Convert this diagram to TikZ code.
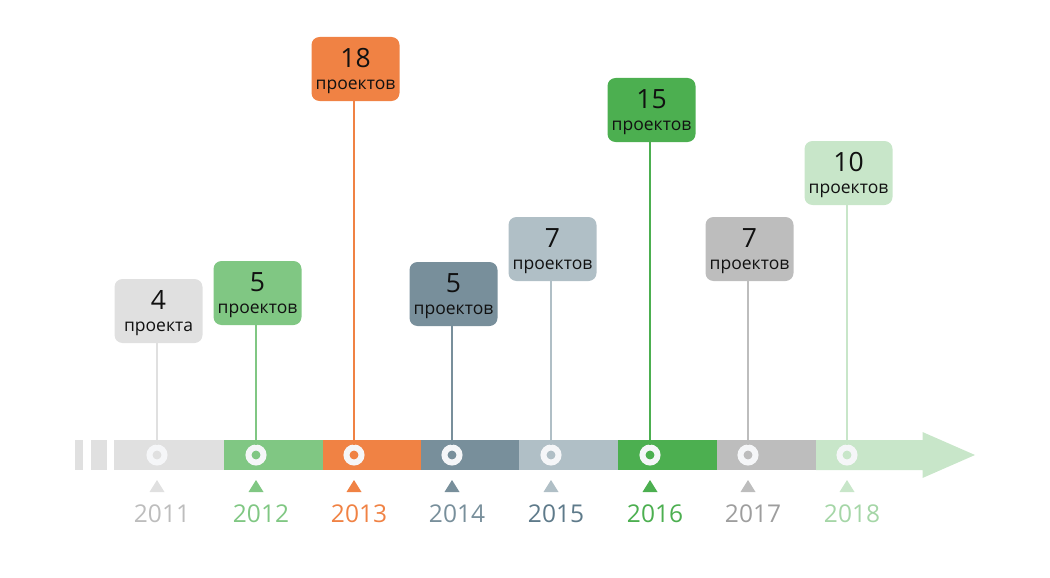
\documentclass[tikz,border=0pt]{standalone}
\usepackage{fontspec}
\setmainfont{Open Sans}
\definecolor{c2011}{HTML}{E0E0E0}
\definecolor{c2012}{HTML}{80C783}
\definecolor{c2013}{HTML}{F08244}
\definecolor{c2014}{HTML}{788F9B}
\definecolor{c2015}{HTML}{B0BFC6}
\definecolor{c2016}{HTML}{4CAF50}
\definecolor{c2017}{HTML}{BDBDBD}
\definecolor{c2018}{HTML}{C8E6C9}
\definecolor{t2011}{HTML}{BDBDBD}
\definecolor{t2012}{HTML}{80C783}
\definecolor{t2013}{HTML}{F08244}
\definecolor{t2014}{HTML}{788F9B}
\definecolor{t2015}{HTML}{5E7A8A}
\definecolor{t2016}{HTML}{4CAF50}
\definecolor{t2017}{HTML}{9E9E9E}
\definecolor{t2018}{HTML}{A5D6A7}
\definecolor{ring}{HTML}{F5F6F8}
\definecolor{ink}{HTML}{111111}
\tikzset{
  databox/.style={rounded corners=8pt, minimum width=88pt, minimum height=64pt, inner sep=0pt, draw=none},
  numtext/.style={font=\fontsize{26.5}{28}\selectfont, text=ink, inner sep=0pt, anchor=base},
  wordtext/.style={font=\fontsize{17.5}{19}\selectfont, text=ink, inner sep=0pt, anchor=base},
  marker/.style={circle, minimum size=15pt, inner sep=0pt, line width=6pt, draw=ring},
  yeartext/.style={font=\fontsize{24.5}{26}\selectfont, inner sep=0pt, anchor=base},
  stem/.style={line width=2pt}
}
\begin{document}
\begin{tikzpicture}[x=1pt,y=-1pt]
\useasboundingbox (0,0) rectangle (1050,578);
% bar stubs
\fill[c2011] (75,440) rectangle (83,470);
\fill[c2011] (91,440) rectangle (107,470);
% bar segments
\fill[c2011] (114,440) rectangle (224,470);
\fill[c2012] (224,440) rectangle (323,470);
\fill[c2013] (323,440) rectangle (421,470);
\fill[c2014] (421,440) rectangle (519,470);
\fill[c2015] (519,440) rectangle (618,470);
\fill[c2016] (618,440) rectangle (717,470);
\fill[c2017] (717,440) rectangle (816,470);
\fill[c2018] (816,440) -- (922.5,440) -- (922.5,432) -- (975,455) -- (922.5,478) -- (922.5,470) -- (816,470) -- cycle;
\foreach \yr/\x/\top/\num/\word in {
  2011/157/279/4/проекта,
  2012/256/261/5/проектов,
  2013/354/37/18/проектов,
  2014/452/262/5/проектов,
  2015/551/217/7/проектов,
  2016/650/78/15/проектов,
  2017/748/217/7/проектов,
  2018/847/141/10/проектов}{
  \node[databox, fill=c\yr] (b\yr) at (\x+1.5,\top+32) {};
  \node[numtext] (n\yr) at (\x+1.5,\top+30) {\num};
  \node[wordtext] (w\yr) at (\x+1.5,\top+52) {\word};
  \node[marker, fill=c\yr] (m\yr) at (\x,455) {};
  \draw[stem, c\yr] (b\yr.south -| m\yr.north) -- (m\yr.north);
  \fill[c\yr] (\x-7.5,492) -- (\x,480) -- (\x+7.5,492) -- cycle;
  \node[yeartext, text=t\yr] (y\yr) at (\x+5,522) {\yr};
}
\end{tikzpicture}
\end{document}
